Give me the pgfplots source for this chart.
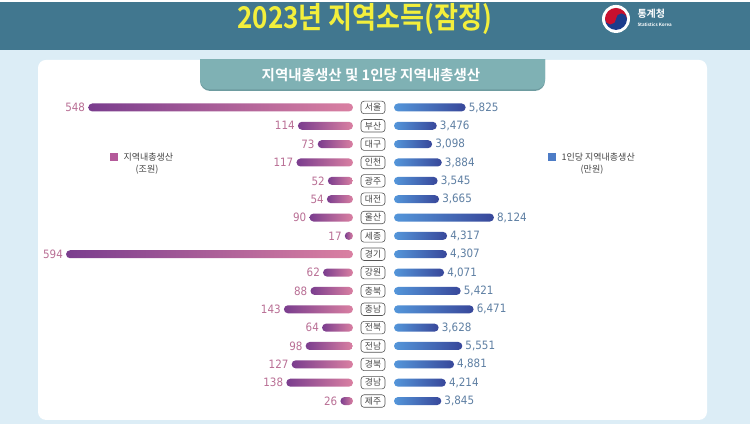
\documentclass[border=0pt]{standalone}
\usepackage{graphicx}
\usepackage{pgfplots}
\pgfplotsset{compat=1.18}
\usepackage{fontspec}
\setmainfont{Noto Sans CJK KR}[BoldFont={Noto Sans CJK KR Bold}]
\newfontfamily\numfont{DejaVu Sans Condensed}
\definecolor{headbg}{HTML}{41778F}
\definecolor{pagebg}{HTML}{DCEDF6}
\definecolor{tabc}{HTML}{7FB1B4}
\definecolor{tabshadow}{HTML}{6E9CA0}
\definecolor{titley}{HTML}{F3EF3C}
\definecolor{lbdark}{HTML}{7A3D8E}
\definecolor{lblight}{HTML}{DA80A2}
\definecolor{rblight}{HTML}{5496DA}
\definecolor{rbdark}{HTML}{38479A}
\definecolor{llab}{HTML}{B96F95}
\definecolor{rlab}{HTML}{5E7FA3}
\definecolor{boxgray}{HTML}{555555}
\definecolor{txtgray}{HTML}{444444}
\definecolor{legL}{HTML}{B45A9A}
\definecolor{legR}{HTML}{4D7CC6}
\definecolor{korred}{HTML}{C8102E}
\definecolor{korblue}{HTML}{1B3C8C}
\pgfplotsset{
  lbar/.style={xbar, bar width=8pt, bar shift=0pt, draw=none, left color=lbdark, right color=lblight,
    rounded corners=4pt, nodes near coords,
    every node near coord/.append style={anchor=east, inner sep=3pt, text=llab,
      font=\numfont\fontsize{11.5}{11.5}\selectfont, /pgf/number format/assume math mode=true}},
  rbar/.style={xbar, bar width=8pt, bar shift=0pt, draw=none, left color=rblight, right color=rbdark,
    rounded corners=4pt, nodes near coords,
    every node near coord/.append style={anchor=west, inner sep=3pt, text=rlab,
      font=\numfont\fontsize{11.5}{11.5}\selectfont, /pgf/number format/assume math mode=true,
      /pgf/number format/1000 sep={,}}},
}
\begin{document}
\begin{tikzpicture}[x=1pt,y=1pt]
\fill[pagebg] (0,0) rectangle (750,422);
\fill[headbg] (0,374) rectangle (750,422);
\fill[white, rounded corners=8pt] (38,4) rectangle (707,364);
\begin{scope}
\clip (0,0) rectangle (750,364);
\fill[tabshadow, rounded corners=10pt] (200,333) rectangle (545,380);
\fill[tabc, rounded corners=10pt] (200,334.5) rectangle (545,380);
\end{scope}
\node[text=white, font=\fontsize{14.5}{14.5}\selectfont\bfseries] at (371,349) {지역내총생산 및 1인당 지역내총생산};
\node[text=titley, font=\fontsize{30}{30}\selectfont\bfseries] at (365,405) {\scalebox{0.87}[1]{2023년 지역소득(잠정)}};
% logo
\fill[white] (616,405) circle (14);
\fill[korred] (605,405) arc (180:0:11) -- cycle;
\fill[korblue] (627,405) arc (0:-180:11) -- cycle;
\fill[korred] (610.5,405) circle (5.5);
\fill[korblue] (621.5,405) circle (5.5);
\node[text=white, font=\fontsize{10}{10}\selectfont\bfseries, anchor=west] at (634,410) {통계청};
\node[text=white, font=\fontsize{4.5}{4.5}\selectfont\bfseries, anchor=west] at (634,399) {Statistics Korea};
% legends
\fill[legL] (110,263) rectangle (118,271);
\node[anchor=west, text=txtgray, font=\fontsize{9}{9}\selectfont] at (120,267) {지역내총생산};
\node[text=txtgray, font=\fontsize{9}{9}\selectfont] at (147,254) {(조원)};
\fill[legR] (548,263) rectangle (556,271);
\node[anchor=west, text=txtgray, font=\fontsize{9}{9}\selectfont] at (558,267) {1인당 지역내총생산};
\node[text=txtgray, font=\fontsize{9}{9}\selectfont] at (592,254) {(만원)};

\begin{axis}[
  at={(353pt,325.67pt)}, anchor=north east,
  scale only axis, width=300pt, height=311.95pt,
  xmin=0, xmax=621, x dir=reverse,
  ymin=-0.5, ymax=16.5, y dir=reverse,
  hide axis, clip=false,
]
\addplot[lbar] coordinates {(548,0)};
\addplot[lbar] coordinates {(114,1)};
\addplot[lbar] coordinates {(73,2)};
\addplot[lbar] coordinates {(117,3)};
\addplot[lbar] coordinates {(52,4)};
\addplot[lbar] coordinates {(54,5)};
\addplot[lbar] coordinates {(90,6)};
\addplot[lbar] coordinates {(17,7)};
\addplot[lbar] coordinates {(594,8)};
\addplot[lbar] coordinates {(62,9)};
\addplot[lbar] coordinates {(88,10)};
\addplot[lbar] coordinates {(143,11)};
\addplot[lbar] coordinates {(64,12)};
\addplot[lbar] coordinates {(98,13)};
\addplot[lbar] coordinates {(127,14)};
\addplot[lbar] coordinates {(138,15)};
\addplot[lbar] coordinates {(26,16)};
\end{axis}

\begin{axis}[
  at={(394pt,325.67pt)}, anchor=north west,
  scale only axis, width=150pt, height=311.95pt,
  xmin=0, xmax=12195,
  ymin=-0.5, ymax=16.5, y dir=reverse,
  clip=false, axis line style={draw=none}, xtick=\empty, major tick length=0pt,
  ytick={0,...,16},
  yticklabels={서울,부산,대구,인천,광주,대전,울산,세종,경기,강원,충북,충남,전북,전남,경북,경남,제주},
  yticklabel style={anchor=center, xshift=-21pt, draw=boxgray, fill=white, line width=0.6pt,
     rounded corners=3pt, minimum width=24pt, minimum height=12.5pt, inner sep=0pt,
     text=txtgray, font=\fontsize{8.8}{8.8}\selectfont},
]
\addplot[rbar] coordinates {(5825,0)};
\addplot[rbar] coordinates {(3476,1)};
\addplot[rbar] coordinates {(3098,2)};
\addplot[rbar] coordinates {(3884,3)};
\addplot[rbar] coordinates {(3545,4)};
\addplot[rbar] coordinates {(3665,5)};
\addplot[rbar] coordinates {(8124,6)};
\addplot[rbar] coordinates {(4317,7)};
\addplot[rbar] coordinates {(4307,8)};
\addplot[rbar] coordinates {(4071,9)};
\addplot[rbar] coordinates {(5421,10)};
\addplot[rbar] coordinates {(6471,11)};
\addplot[rbar] coordinates {(3628,12)};
\addplot[rbar] coordinates {(5551,13)};
\addplot[rbar] coordinates {(4881,14)};
\addplot[rbar] coordinates {(4214,15)};
\addplot[rbar] coordinates {(3845,16)};
\end{axis}
\end{tikzpicture}
\end{document}
